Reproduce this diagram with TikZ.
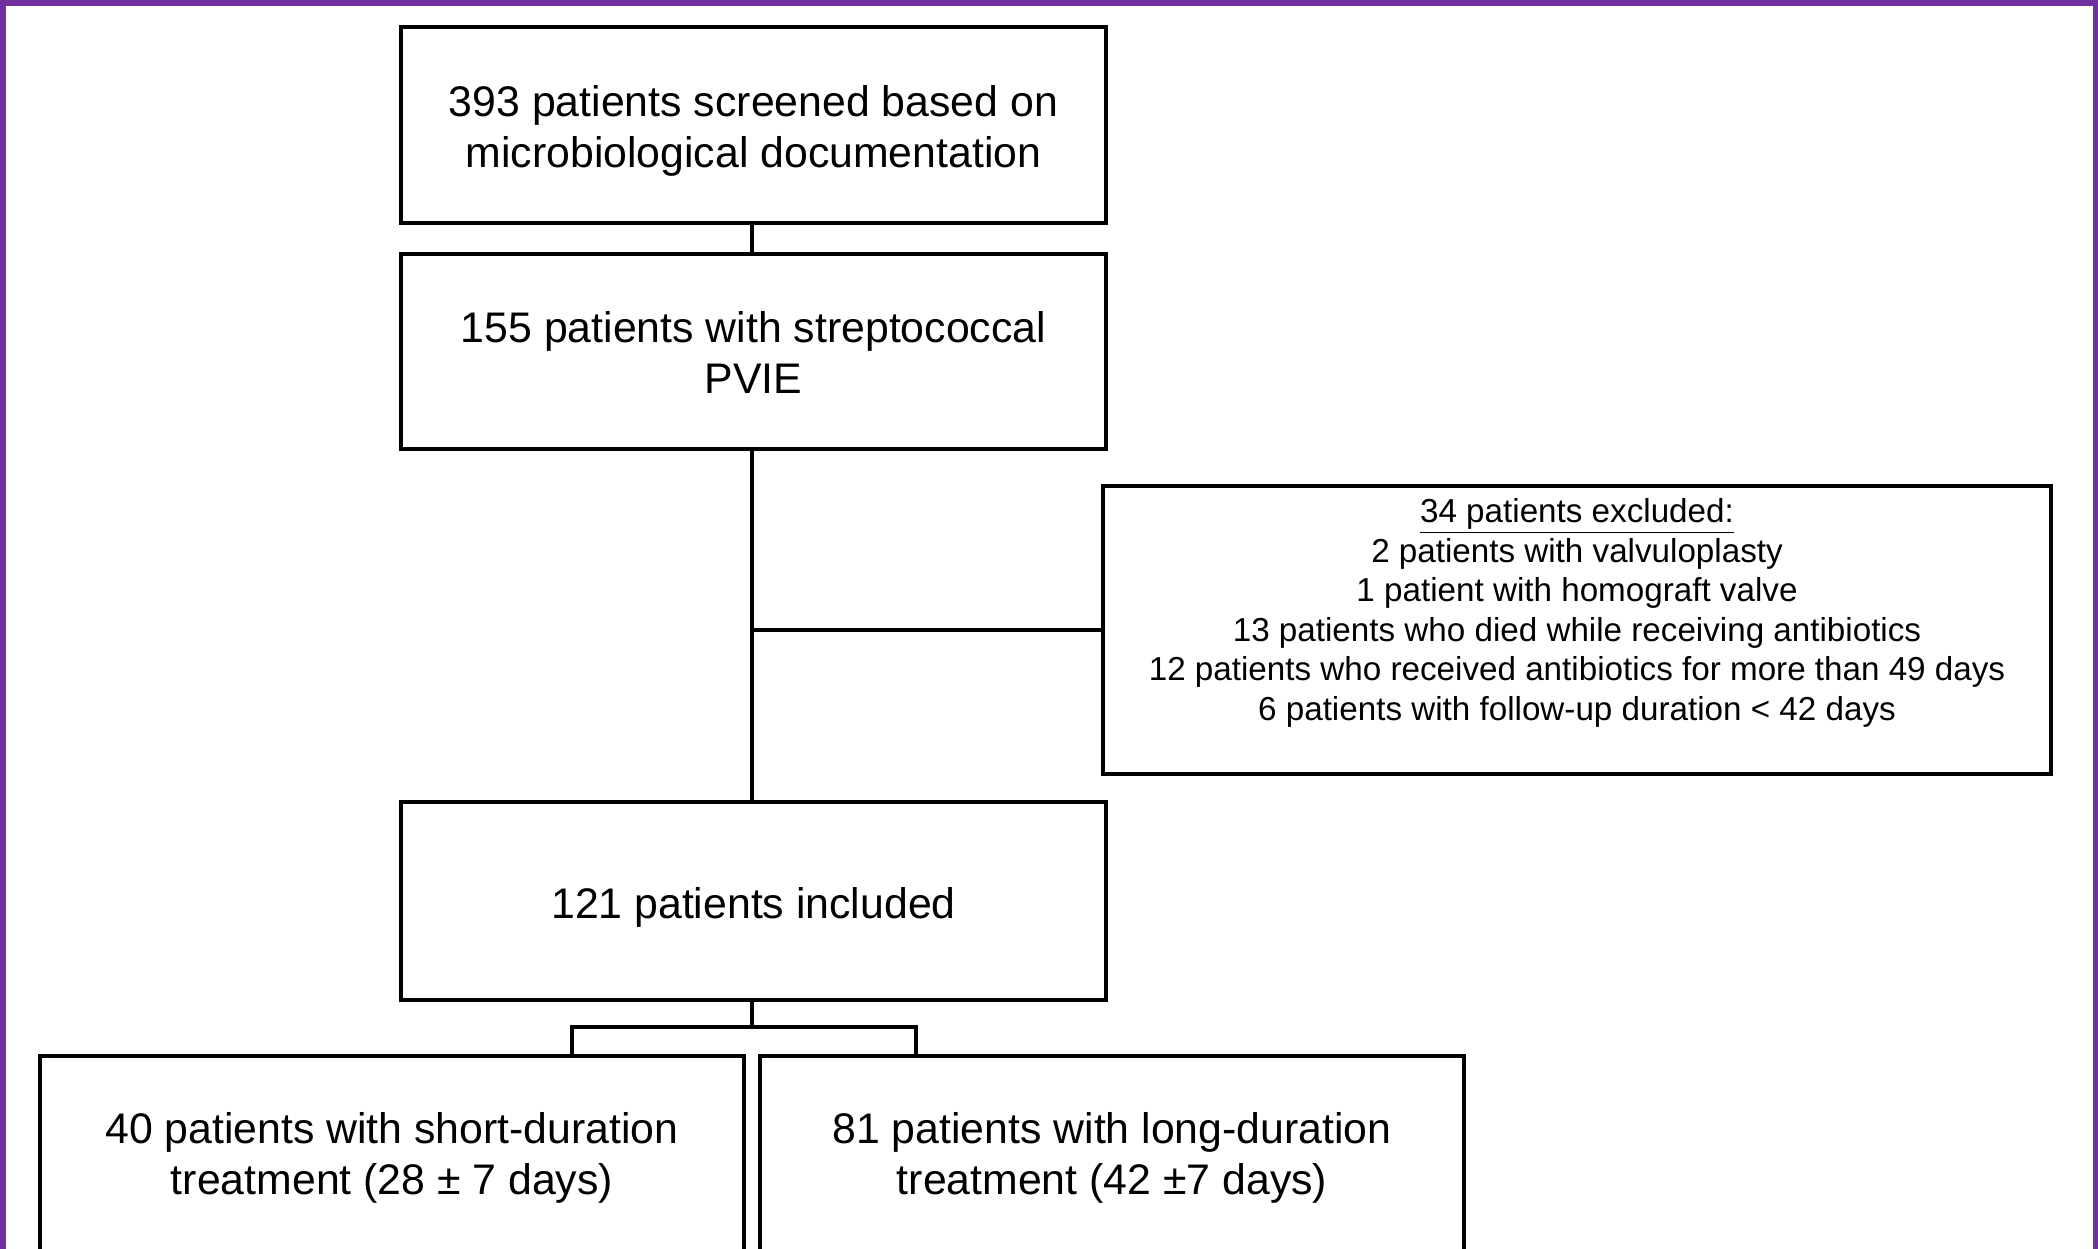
\documentclass[tikz,border=0pt]{standalone}
\usepackage{fontspec}
\setmainfont{Liberation Sans}
\usetikzlibrary{calc}
\definecolor{framepurple}{HTML}{7030A0}
\newcommand{\lowered}[2]{\raisebox{-#1}[\height][\depth]{\begin{tabular}{@{}c@{}}#2\end{tabular}}}
\begin{document}
\begin{tikzpicture}[x=0.5pt,y=-0.5pt,
  box/.style={draw=black, line width=1.75pt, rectangle, inner sep=0pt, align=center,
    font=\fontsize{21.4pt}{25.5pt}\selectfont},
  smalltext/.style={align=center, inner sep=0pt, font=\fontsize{16.6pt}{19.8pt}\selectfont},
  conn/.style={draw=black, line width=1.75pt}]
\useasboundingbox (0,0) rectangle (2098,1248);
\fill[white] (0,0) rectangle (2098,1248);
% frame
\draw[framepurple, line width=3pt] (3,1260) -- (3,3) -- (2096,3) -- (2096,1260);
% boxes
\node[box, minimum width=352.5pt, minimum height=98pt] (screen) at (753.5,125)
  {\lowered{3.5pt}{393 patients screened based on\\ microbiological documentation}};
\node[box, minimum width=352.5pt, minimum height=97.5pt] (strep) at (753.5,351.5)
  {\lowered{3pt}{155 patients with streptococcal\\ PVIE}};
\node[box, minimum width=474pt, minimum height=144pt] (excl) at (1577,630) {};
\node[smalltext] (excltext) at (1577,613)
  {\underline{34 patients excluded:}\\
   2 patients with valvuloplasty\\
   1 patient with homograft valve\\
   13 patients who died while receiving antibiotics\\
   12 patients who received antibiotics for more than 49 days\\
   6 patients with follow-up duration < 42 days};
\node[box, minimum width=352.5pt, minimum height=99pt] (incl) at (753.5,901)
  {\lowered{3.5pt}{121 patients included}};
\node[box, minimum width=352pt, minimum height=98.5pt] (short) at (392,1154.5)
  {\lowered{2pt}{40 patients with short-duration\\ treatment (28 ± 7 days)}};
\node[box, minimum width=352pt, minimum height=98.5pt] (long) at (1112,1154.5)
  {\lowered{2pt}{81 patients with long-duration\\ treatment (42 ±7 days)}};
% connectors
\coordinate (junc) at (752,630);
\coordinate (bar) at (752,1027);
\coordinate (barL) at (572,1027);
\coordinate (barR) at (916,1027);
\draw[conn] (screen.south -| junc) -- (strep.north -| junc);
\draw[conn] (strep.south -| junc) -- (incl.north -| junc);
\draw[conn] (junc) -- (excl.west |- junc);
\draw[conn] (incl.south -| bar) -- (bar);
\draw[conn] ([xshift=-0.875pt]barL) -- ([xshift=0.875pt]barR);
\draw[conn] (barL) -- (short.north -| barL);
\draw[conn] (barR) -- (long.north -| barR);
\end{tikzpicture}
\end{document}
